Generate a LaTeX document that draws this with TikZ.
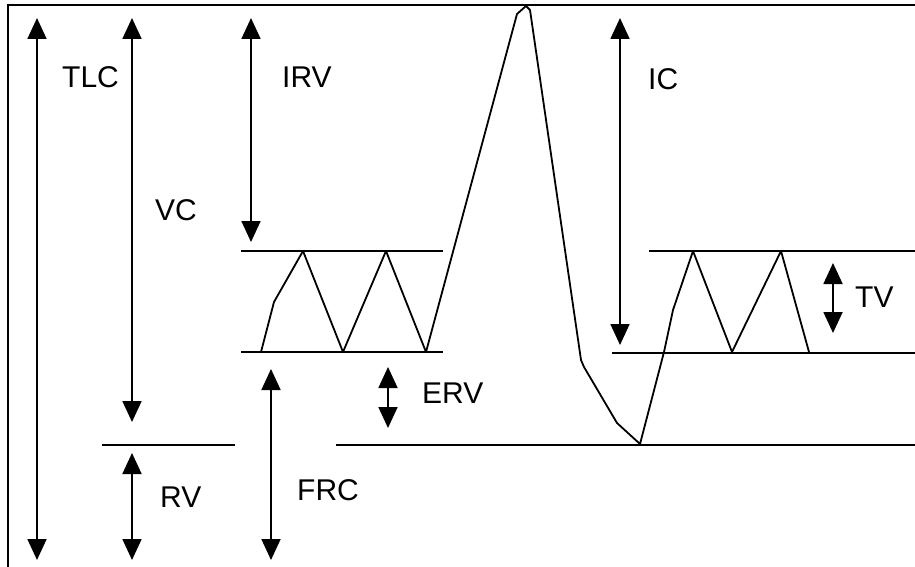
\documentclass[tikz,border=0pt]{standalone}
\usepackage{fontspec}
\setmainfont{Liberation Sans}
\usetikzlibrary{arrows.meta}
\begin{document}
\begin{tikzpicture}[x=1pt,y=-1pt,
  ln/.style={line width=1.8pt,black},
  wave/.style={line width=1.8pt,black,line join=round},
  dbl/.style={line width=1.8pt,{Triangle[length=21pt,width=19pt]}-{Triangle[length=21pt,width=19pt]}},
  dn/.style={line width=1.8pt,-{Triangle[length=21pt,width=19pt]}},
  lbl/.style={anchor=base west,inner sep=0pt,font=\fontsize{30}{36}\selectfont}]
\useasboundingbox (0,0) rectangle (915,567);
% frame
\coordinate (fbl) at (8,567);
\coordinate (ftl) at (8,5);
\coordinate (ftr) at (915,5);
\draw[ln,line cap=rect] (fbl) -- (ftl) -- (ftr);
% level lines
\coordinate (l1a) at (241,251); \coordinate (l1b) at (443,251);
\coordinate (l2a) at (241,352); \coordinate (l2b) at (443,352);
\coordinate (l3a) at (102,445); \coordinate (l3b) at (235,445);
\coordinate (l4a) at (336,445); \coordinate (l4b) at (915,445);
\coordinate (l5a) at (649,251); \coordinate (l5b) at (915,251);
\coordinate (l6a) at (612,353); \coordinate (l6b) at (915,353);
\draw[ln] (l1a) -- (l1b);
\draw[ln] (l2a) -- (l2b);
\draw[ln] (l3a) -- (l3b);
\draw[ln] (l4a) -- (l4b);
\draw[ln] (l5a) -- (l5b);
\draw[ln] (l6a) -- (l6b);
% waveform
\draw[wave] (261,352) -- (274,302) -- (303,251) -- (343,352) -- (386,251) -- (426,352)
  -- (517,14) -- (526,6) -- (530,10) -- (581,360) -- (584,367) -- (617,423) -- (640,444)
  -- (664,352) -- (673,310) -- (693,251) -- (732,352) -- (781,251) -- (809,352);
% arrows
\coordinate (tlcT) at (37,18);  \coordinate (tlcB) at (37,560);
\coordinate (vcT) at (132,18);  \coordinate (vcB) at (132,422);
\coordinate (irvT) at (251,18); \coordinate (irvB) at (251,242);
\coordinate (icT) at (620,18);  \coordinate (icB) at (620,345);
\coordinate (tvT) at (833,263); \coordinate (tvB) at (833,333);
\coordinate (ervT) at (388,367); \coordinate (ervB) at (388,428);
\coordinate (rvT) at (132,453); \coordinate (rvB) at (132,560);
\coordinate (frcT) at (271,369); \coordinate (frcB) at (271,560);
\draw[dbl] (tlcT) -- (tlcB);
\draw[dbl] (vcT) -- (vcB);
\draw[dbl] (irvT) -- (irvB);
\draw[dbl] (icT) -- (icB);
\draw[dbl] (tvT) -- (tvB);
\draw[dbl] (ervT) -- (ervB);
\draw[dbl] (rvT) -- (rvB);
\draw[dbl] (frcT) -- (frcB);
% labels
\node[lbl] (tlc) at (62,88) {TLC};
\node[lbl] (irv) at (282,88) {IRV};
\node[lbl] (vc) at (155,220) {VC};
\node[lbl] (ic) at (648,90) {IC};
\node[lbl] (tv) at (855,307) {TV};
\node[lbl] (erv) at (422,403) {ERV};
\node[lbl] (rv) at (160,507) {RV};
\node[lbl] (frc) at (297,500) {FRC};
\end{tikzpicture}
\end{document}
